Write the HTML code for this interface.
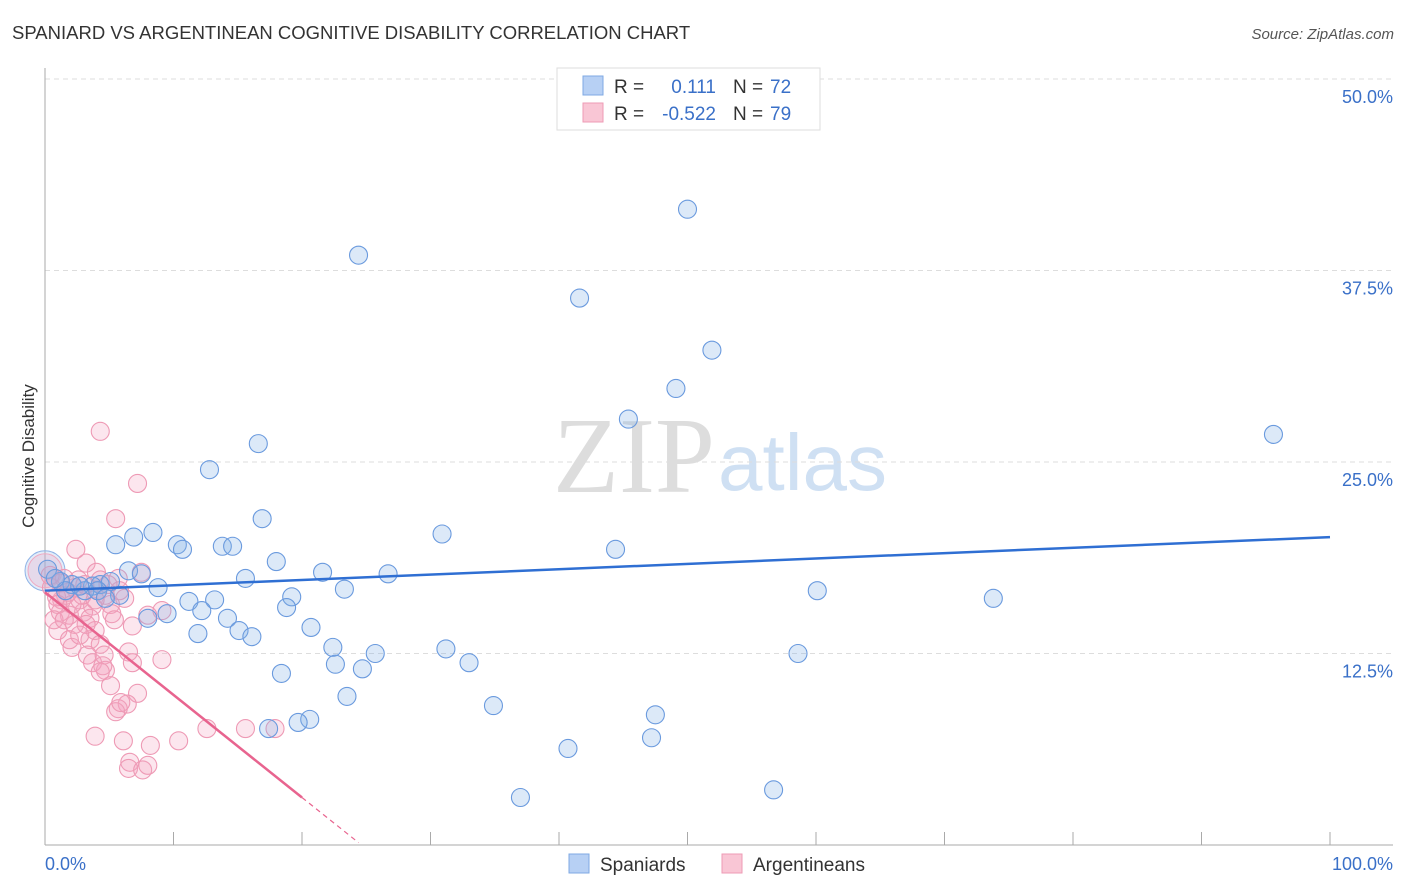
<!DOCTYPE html>
<html><head><meta charset="utf-8"><style>
body{margin:0;background:#fff;font-family:"Liberation Sans",sans-serif}
svg{display:block}
</style></head><body>
<svg id="chart" width="1406" height="892">
<text x="12" y="39" font-size="18.5" fill="#333">SPANIARD VS ARGENTINEAN COGNITIVE DISABILITY CORRELATION CHART</text>
<text x="1394" y="39" font-size="15" fill="#555" font-style="italic" text-anchor="end">Source: ZipAtlas.com</text>
<text x="34" y="456" font-size="17" fill="#333" text-anchor="middle" transform="rotate(-90 34 456)">Cognitive Disability</text>
<g>
<text x="553" y="492" font-size="108" fill="#ddd" font-family="Liberation Serif,serif">ZIP</text>
<text x="718" y="490" font-size="80" fill="#cfe0f3">atlas</text>
</g>
<g id="grid"></g><g id="axes"></g><g id="marks"></g>
<g>
<rect x="557" y="68" width="263" height="62" fill="#fff" stroke="#ddd"/>
<rect x="583" y="76" width="20" height="19" fill="#b7d0f4" stroke="#7fa9e3"/>
<rect x="583" y="103" width="20" height="19" fill="#f9c6d5" stroke="#ee9bb5"/>
<text x="614" y="93" font-size="19" fill="#333">R =</text>
<text x="716" y="93" font-size="19" fill="#3a70c8" text-anchor="end">0.111</text>
<text x="733" y="93" font-size="19" fill="#333">N =</text>
<text x="770" y="93" font-size="19" fill="#3a70c8">72</text>
<text x="614" y="120" font-size="19" fill="#333">R =</text>
<text x="716" y="120" font-size="19" fill="#3a70c8" text-anchor="end">-0.522</text>
<text x="733" y="120" font-size="19" fill="#333">N =</text>
<text x="770" y="120" font-size="19" fill="#3a70c8">79</text>
</g>
<g>
<rect x="569" y="854" width="20" height="19" fill="#b7d0f4" stroke="#7fa9e3"/>
<text x="600" y="871" font-size="19" fill="#333">Spaniards</text>
<rect x="722" y="854" width="20" height="19" fill="#f9c6d5" stroke="#ee9bb5"/>
<text x="753" y="871" font-size="19" fill="#333">Argentineans</text>
</g>
</svg>
<script>
const yTicks=[12.5,25,37.5,50];
const yTickLabels=["12.5%","25.0%","37.5%","50.0%"];
const xTickLabels=["0.0%","100.0%"];
const blueX=[50.0,24.4,41.6,51.9,49.1,45.4,95.6,16.6,12.8,16.9,8.4,6.9,5.5,30.9,10.3,10.7,13.8,14.6,44.4,18.0,6.5,7.5,21.6,26.7,15.6,60.1,8.8,23.3,19.2,5.8,11.2,13.2,73.8,18.8,12.2,9.5,8.0,14.2,20.7,15.1,11.9,16.1,22.4,31.2,25.7,58.6,33.0,22.6,24.7,18.4,23.5,34.9,47.5,20.6,19.7,17.4,47.2,40.7,37.0,56.7,4.3,5.1,3.7,3.1,1.2,2.1,0.2,1.6,4.1,2.7,4.7,0.8];
const blueY=[41.5,38.5,35.7,32.3,29.8,27.8,26.8,26.2,24.5,21.3,20.4,20.1,19.6,20.3,19.6,19.3,19.5,19.5,19.3,18.5,17.9,17.7,17.8,17.7,17.4,16.6,16.8,16.7,16.2,16.3,15.9,16.0,16.1,15.5,15.3,15.1,14.8,14.8,14.2,14.0,13.8,13.6,12.9,12.8,12.5,12.5,11.9,11.8,11.5,11.2,9.7,9.1,8.5,8.2,8.0,7.6,7.0,6.3,3.1,3.6,17.0,17.2,16.9,16.6,17.2,17.0,18.0,16.6,16.6,16.9,16.1,17.4];
const pinkX=[5.5,2.4,3.2,4.0,4.3,7.5,5.7,4.1,1.2,2.3,1.3,2.7,3.7,5.1,6.2,1.9,1.2,3.0,3.5,1.0,3.9,5.2,2.3,1.9,3.5,4.3,2.1,3.3,3.7,4.6,4.7,4.5,4.3,6.5,6.8,9.1,9.1,8.0,5.1,6.8,7.2,6.4,5.7,5.5,5.9,3.9,6.1,8.2,10.4,12.6,6.6,6.5,7.6,8.0,4.3,7.2,15.6,17.9,1.6,0.9,2.6,1.5,0.5,0.4,2.1,2.9,4.7,3.1,1.8,1.0,3.9,5.8,4.9,5.4,0.7,1.5,3.2,2.7];
const pinkY=[21.3,19.3,18.4,17.8,17.3,17.8,17.4,16.6,17.1,16.8,16.0,16.0,15.6,15.7,16.1,15.0,15.2,15.2,14.8,14.0,14.0,15.1,14.4,13.4,13.4,13.1,12.9,12.4,11.9,12.4,11.4,11.7,11.3,12.6,14.3,15.3,12.1,15.0,10.4,11.9,9.9,9.2,8.9,8.7,9.3,7.1,6.8,6.5,6.8,7.6,5.4,5.0,4.9,5.2,27.0,23.6,7.6,7.6,16.3,16.2,17.3,17.4,16.8,17.6,15.7,16.3,16.3,17.0,16.5,15.7,16.0,16.6,17.0,14.7,14.7,14.7,14.4,13.7];
const blueFit=[16.6,0.035];   // intercept, slope
const pinkFit=[16.5,-0.67];
const NS="http://www.w3.org/2000/svg";
const X0=45,X1=1330,Y0=845,YT=79;
function sx(v){return X0+(X1-X0)*v/100;}
function sy(v){return Y0-(Y0-YT)*v/50;}
function mk(tag,attrs,parent){const e=document.createElementNS(NS,tag);for(const k in attrs)e.setAttribute(k,attrs[k]);parent.appendChild(e);return e;}
const grid=document.getElementById('grid'),axes=document.getElementById('axes'),marks=document.getElementById('marks');
yTicks.forEach((t,i)=>{
 const l=mk('line',{x1:X0,x2:1393,y1:sy(t),y2:sy(t),stroke:'#ddd','stroke-dasharray':'5,4'},grid);
 
 
 const tx=mk('text',{x:1393,y:sy(t)+24,'font-size':18,fill:'#3a70c8','text-anchor':'end'},axes);
 tx.textContent=yTickLabels[i];
 
 
});
mk('line',{x1:X0,x2:X0,y1:68,y2:Y0,stroke:'#aaa'},axes);
mk('line',{x1:X0,x2:1393,y1:Y0,y2:Y0,stroke:'#aaa'},axes);
for(let i=0;i<=10;i++){const x=sx(i*10);mk('line',{x1:x,x2:x,y1:Y0-13,y2:Y0,stroke:'#aaa'},axes);}
[[0,'start',X0],[100,'end',1393]].forEach((d,i)=>{
 const t=mk('text',{x:d[2],y:870,'font-size':18,fill:'#3a70c8','text-anchor':d[1]},axes);
 t.textContent=xTickLabels[i];
 
 
});
mk('circle',{cx:sx(0),cy:sy(17.9),r:20,fill:'rgba(140,180,230,0.25)',stroke:'#8fb3e6'},marks);
mk('circle',{cx:sx(0),cy:sy(17.9),r:17,fill:'rgba(240,160,190,0.25)',stroke:'#f0a8c0'},marks);
function dots(xs,ys,fill,stroke,name){
 xs.forEach((v,i)=>{
  const c=mk('circle',{cx:sx(v),cy:sy(ys[i]),r:9,fill:fill,stroke:stroke,'stroke-width':1.1},marks);
  
  
 });
}
dots(pinkX,pinkY,'rgba(245,165,195,0.28)','#ee9ab5','argentinean-point');
dots(blueX,blueY,'rgba(130,175,230,0.28)','#6a9ade','spaniard-point');
const bl=mk('line',{x1:sx(0),y1:sy(blueFit[0]),x2:sx(100),y2:sy(blueFit[0]+blueFit[1]*100),stroke:'#2f6fd3','stroke-width':2.5},marks);


const xe=20,xd=24.4;
const pl=mk('line',{x1:sx(0),y1:sy(pinkFit[0]),x2:sx(xe),y2:sy(pinkFit[0]+pinkFit[1]*xe),stroke:'#e8648f','stroke-width':2.5},marks);


const pd=mk('line',{x1:sx(xe),y1:sy(pinkFit[0]+pinkFit[1]*xe),x2:sx(xd),y2:sy(pinkFit[0]+pinkFit[1]*xd),stroke:'#e8648f','stroke-width':1.2,'stroke-dasharray':'5,4'},marks);


</script>
</body></html>
